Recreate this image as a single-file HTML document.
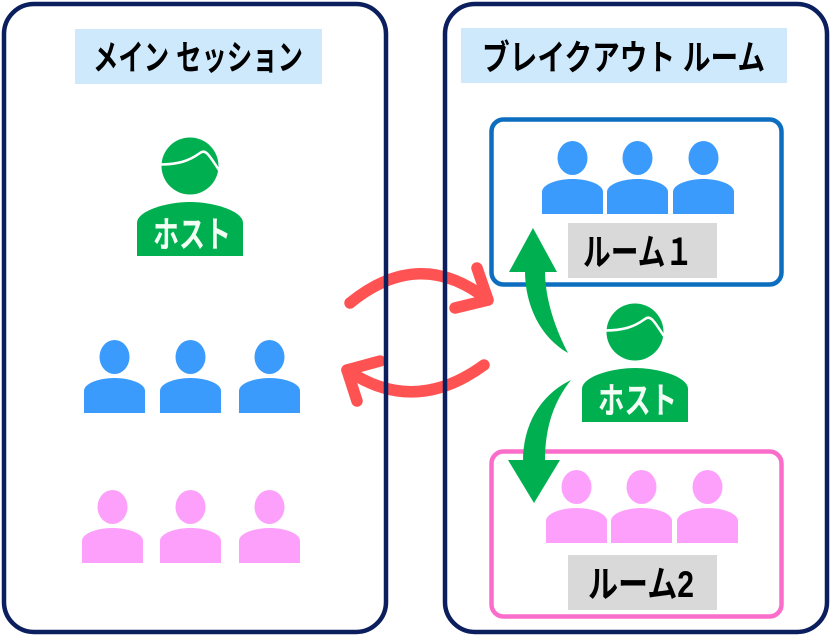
<!DOCTYPE html>
<html><head><meta charset="utf-8"><style>
html,body{margin:0;padding:0;background:#fff;}
svg{display:block;}
text{font-family:"Liberation Sans","Noto Sans CJK JP",sans-serif;font-weight:bold;}
</style></head><body>
<svg width="830" height="636" viewBox="0 0 830 636" xmlns="http://www.w3.org/2000/svg">
<defs>
  <g id="pb">
    <ellipse cx="30.5" cy="-21" rx="15" ry="17" fill="#3a9bfd"/>
    <path d="M0,35 L0,13 C0,5 16,0 30.5,0 C45,0 61,5 61,13 L61,35 Z" fill="#3a9bfd"/>
  </g>
  <g id="pp">
    <ellipse cx="30.5" cy="-21" rx="15" ry="17" fill="#fca0fb"/>
    <path d="M0,35 L0,13 C0,5 16,0 30.5,0 C45,0 61,5 61,13 L61,35 Z" fill="#fca0fb"/>
  </g>
  <g id="host">
    <circle cx="190" cy="166" r="28.5" fill="#00b050"/>
    <path d="M160,164.5 C178,164.5 189,161 200,153 C206,148 210,157 219,170" fill="none" stroke="#fff" stroke-width="2.5"/>
    <path d="M137,256 L137,223 C137,211 166,202 190,202 C214,202 243,211 243,223 L243,256 Z" fill="#00b050"/>
  </g>
</defs>

<!-- red arrows -->
<g fill="none" stroke="#ff5252" stroke-width="11.5" stroke-linecap="round" stroke-linejoin="round">
  <path d="M350,303 Q420,246 488,300"/>
  <path d="M477,268 L488,300 L455,308"/>
  <path d="M484,365 Q414,416 347,370"/>
  <path d="M380,361 L347,370 L357,401"/>
</g>

<!-- outer boxes -->
<rect x="4" y="4" width="382" height="628" rx="30" fill="none" stroke="#0b1f5e" stroke-width="4.5"/>
<rect x="445" y="4" width="382" height="628" rx="30" fill="none" stroke="#0b1f5e" stroke-width="4.5"/>

<!-- titles -->
<rect x="75" y="29" width="247" height="55" fill="#cde9fb"/>
<text x="198" y="70" font-size="35" text-anchor="middle" textLength="210" lengthAdjust="spacingAndGlyphs" fill="#000">メイン セッション</text>
<rect x="461" y="28" width="326" height="55" fill="#cde9fb"/>
<text x="623.5" y="70" font-size="35" text-anchor="middle" textLength="283" lengthAdjust="spacingAndGlyphs" fill="#000">ブレイクアウト ルーム</text>

<!-- left host -->
<use href="#host"/>
<text x="192" y="247" font-size="36" text-anchor="middle" textLength="78" lengthAdjust="spacingAndGlyphs" fill="#f2fff4">ホスト</text>

<!-- left blue people -->
<use href="#pb" transform="translate(84,378)"/>
<use href="#pb" transform="translate(160,378)"/>
<use href="#pb" transform="translate(239,378)"/>
<!-- left pink people -->
<use href="#pp" transform="translate(82,528)"/>
<use href="#pp" transform="translate(160,528)"/>
<use href="#pp" transform="translate(239,528)"/>

<!-- room 1 -->
<rect x="491.5" y="119.5" width="290" height="165" rx="12" fill="none" stroke="#0d6ec0" stroke-width="4.5"/>
<use href="#pb" transform="translate(542,179)"/>
<use href="#pb" transform="translate(607,179)"/>
<use href="#pb" transform="translate(673,179)"/>
<rect x="568" y="223" width="149" height="55" fill="#d9d9d9"/>
<text x="638" y="265" font-size="37" text-anchor="middle" textLength="110" lengthAdjust="spacingAndGlyphs" fill="#000">ルーム１</text>

<!-- room 2 -->
<rect x="491.5" y="451.5" width="290" height="165" rx="12" fill="none" stroke="#fb6dcb" stroke-width="4.5"/>
<use href="#pp" transform="translate(546,508)"/>
<use href="#pp" transform="translate(611,508)"/>
<use href="#pp" transform="translate(677,508)"/>
<rect x="568" y="555" width="149" height="55" fill="#d9d9d9"/>
<text x="641" y="597" font-size="37" text-anchor="middle" textLength="106" lengthAdjust="spacingAndGlyphs" fill="#000">ルーム2</text>

<!-- right host -->
<use href="#host" transform="translate(445,166)"/>
<text x="637.5" y="413" font-size="36" text-anchor="middle" textLength="79" lengthAdjust="spacingAndGlyphs" fill="#f2fff4">ホスト</text>

<!-- green arrows -->
<g fill="#00b050">
  <path d="M533,228 L557,272 L509,272 Z"/>
  <path d="M525,271 C525,305 540,337 568,353 C556,330 545,300 545,271 Z"/>
  <path d="M571,380 C540,395 523,425 523,461 L545,461 C545,425 555,400 571,380 Z"/>
  <path d="M508,460 L560,460 L534,503 Z"/>
</g>
</svg>
</body></html>
